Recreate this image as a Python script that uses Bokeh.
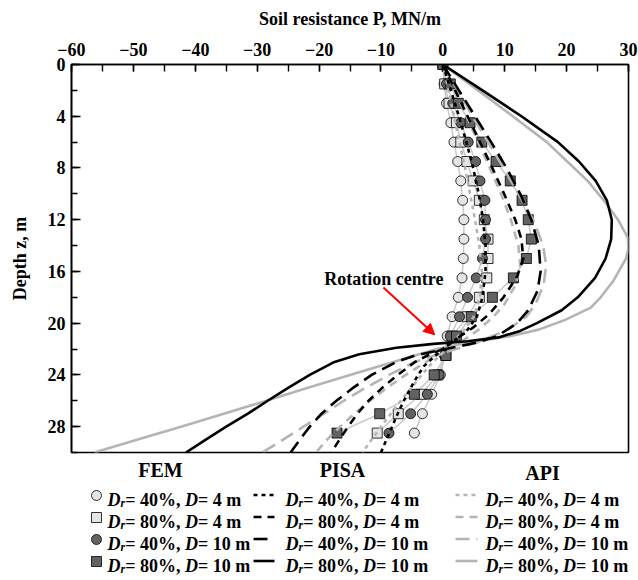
from bokeh.plotting import figure
from bokeh.layouts import column
from bokeh.models import Range1d, SingleIntervalTicker, Arrow, NormalHead, ColumnDataSource, CustomJSTickFormatter
from bokeh.embed import file_html
from bokeh.resources import INLINE
from bokeh.core.properties import value, field

FONT = "Liberation Serif"

# ---------------- data ----------------
fem_depth = [0, 1.5, 3, 4.5, 6, 7.5, 9, 10.5, 12, 13.5, 15, 16.5, 18, 19.5, 21, 22.5, 24, 25.5, 27, 28.5]
fem_dr40_d4 = [0, 0.2, 0.6, 1.3, 1.8, 2.4, 2.9, 3.2, 3.4, 3.4, 3.3, 3.1, 2.5, 1.5, 0.7, 0.3, -0.4, -1.8, -3.3, -4.6]
fem_dr80_d4 = [0, 0.3, 1.0, 2.2, 2.9, 3.9, 4.9, 5.9, 6.7, 7.3, 7.3, 7.1, 5.9, 4.0, 1.5, 0.5, -0.8, -3.5, -7.2, -10.6]
fem_dr40_d10 = [0, 0.6, 1.6, 2.9, 4.1, 5.3, 6.0, 6.8, 6.9, 6.9, 6.4, 5.4, 4.0, 2.7, 1.2, 0.3, -0.6, -2.5, -5.2, -8.7]
fem_dr80_d10 = [0, 1.2, 2.5, 4.4, 6.3, 8.6, 10.9, 12.8, 13.8, 14.3, 13.5, 11.4, 8.0, 4.6, 2.2, 0.5, -1.4, -4.6, -10.2, -17.1]

pisa_dr40_d4_z = [0, 2, 4, 6, 8, 10, 12, 14, 16, 18, 19.5, 20.5, 21.3, 22, 22.5, 23.3, 24, 25, 26, 27, 28, 29, 30]
pisa_dr40_d4_p = [0, 1.3, 2.6, 3.8, 4.9, 5.8, 6.5, 6.9, 6.9, 6.4, 5.5, 4.0, 2.0, 0, -1.2, -3.0, -4.0, -5.2, -6.3, -7.3, -8.2, -9.1, -10.0]
pisa_dr80_d4_z = [0, 2, 4, 6, 8, 10, 12, 13.5, 15, 16.4, 18, 19.3, 20.3, 21.2, 22, 22.5, 23, 24, 25, 26, 27, 28, 29, 30]
pisa_dr80_d4_p = [0, 2.0, 4.0, 6.0, 8.0, 9.9, 11.7, 12.7, 13.0, 12.0, 9.8, 7.5, 5.0, 2.2, 0, -2.5, -4.5, -7.3, -9.8, -12.0, -13.8, -15.3, -16.7, -18.0]
pisa_dr40_d10_z = [0, 2, 4, 6, 8, 10, 12, 14, 16, 17.5, 19, 20, 21, 21.5, 22, 22.5, 23, 24, 25, 26, 27, 28, 29, 30]
pisa_dr40_d10_p = [0, 2.6, 5.2, 7.8, 10.3, 12.5, 14.3, 15.5, 15.8, 15.3, 13.8, 12.0, 8.8, 5.5, 0.5, -4.5, -7.5, -11.5, -14.5, -17.2, -19.6, -21.5, -23.1, -24.6]
pisa_dr80_d10_z = [0, 2, 4, 6, 7.5, 9, 10.5, 12, 13.5, 15, 16.5, 18, 19, 20, 20.6, 21.1, 21.4, 21.6, 21.9, 22.4, 23, 24, 25, 26, 27, 28, 29, 30]
pisa_dr80_d10_p = [0, 6.4, 12.7, 18.6, 22.0, 24.7, 26.5, 27.3, 27.2, 26.3, 24.6, 21.8, 19.2, 15.2, 12.5, 9.0, 4.0, -1.5, -7.5, -13.5, -17.5, -21.5, -25.0, -28.3, -31.5, -35.0, -38.3, -41.5]

api_dr40_d4_z = [0, 2, 4, 6, 8, 10, 12, 14, 16, 18, 19.5, 20.5, 21.5, 22.3, 23, 24, 25, 26, 27, 28, 29, 30]
api_dr40_d4_p = [0, 0.9, 1.8, 2.7, 3.6, 4.4, 5.2, 5.9, 6.3, 6.0, 5.0, 3.5, 1.5, 0, -1.6, -3.4, -5.1, -6.8, -8.4, -10.0, -11.5, -13.0]
api_dr80_d4_z = [0, 2, 4, 6, 8, 10, 12, 14, 15.5, 17, 18.5, 19.5, 20.5, 21.5, 22.3, 23, 24, 25, 26, 27, 28, 29, 30]
api_dr80_d4_p = [0, 1.9, 3.8, 5.7, 7.6, 9.4, 11.0, 12.2, 12.5, 11.8, 10.0, 8.2, 5.8, 2.8, 0, -2.7, -6.0, -9.0, -11.8, -14.3, -16.6, -18.7, -20.5]
api_dr40_d10_z = [0, 2, 4, 6, 8, 10, 12, 14, 15.5, 17, 18.5, 19.5, 20.5, 21.5, 22.3, 23, 24, 25, 26, 27, 28, 29, 30]
api_dr40_d10_p = [0, 2.4, 4.8, 7.3, 9.8, 12.2, 14.6, 16.2, 16.7, 16.3, 15.0, 13.5, 10.5, 5.5, 0, -4.5, -8.7, -12.5, -16.0, -19.2, -22.5, -25.8, -29.2]
api_dr80_d10_z = [0, 2, 4, 6, 7.5, 9, 10.5, 12, 13.4, 14.2, 15, 16.7, 18, 18.8, 19.8, 20.5, 21, 21.3, 21.7, 22, 23, 24, 25, 26, 27, 28, 29, 30]
api_dr80_d10_p = [0, 5.7, 11.3, 16.8, 20.1, 23.4, 26.0, 28.3, 29.9, 30.0, 29.6, 27.6, 25.5, 23.9, 19.5, 15.5, 11.0, 7.0, 2.0, -1.0, -8.0, -15.0, -21.8, -28.5, -35.4, -42.3, -49.3, -56.3]

x_ticks_interval = 10
y_ticks_interval = 4

legend_groups = ["FEM", "PISA", "API"]
legend_rows = [("40%", "4 m"), ("80%", "4 m"), ("40%", "10 m"), ("80%", "10 m")]

# ---------------- styles ----------------
LIGHT = "#e4e4e4"
DARK = "#626262"
FEMLINE = "#c9c9c9"
GRAY = "#b4b4b4"
DASHES = ["4 4", "8 6", "14 7", "solid"]

W = 638
H1 = 454
H2 = 580 - H1

# ---------------- main plot ----------------
p = figure(width=W, height=H1, output_backend="svg", toolbar_location=None,
           x_range=Range1d(-60, 30), y_range=Range1d(30, 0),
           x_axis_location="above", y_axis_location="left",
           min_border_left=71, min_border_right=10, min_border_top=64, min_border_bottom=2)
p.frame_align = False
p.grid.visible = False
p.outline_line_color = "black"
p.outline_line_width = 1.6
p.background_fill_color = "white"
p.border_fill_color = "white"

xa = p.xaxis[0]
xa.ticker = SingleIntervalTicker(interval=x_ticks_interval, num_minor_ticks=2)
xa.formatter = CustomJSTickFormatter(code="return (tick < 0 ? '\u2212' : '') + Math.abs(Math.round(tick));")
xa.axis_label = "Soil resistance P, MN/m"
ya = p.yaxis[0]
ya.ticker = SingleIntervalTicker(interval=y_ticks_interval, num_minor_ticks=2)
ya.axis_label = "Depth z, m"
for ax in (xa, ya):
    ax.axis_line_width = 1.6
    ax.major_tick_out = 0
    ax.minor_tick_out = 0
    ax.major_tick_line_width = 1.4
    ax.minor_tick_line_width = 1.4
    ax.major_label_text_font = FONT
    ax.major_label_text_font_style = "bold"
    ax.major_label_text_font_size = "18px"
    ax.major_label_text_color = "black"
    ax.axis_label_text_font = FONT
    ax.axis_label_text_font_style = "bold"
    ax.axis_label_text_font_size = "18px"
    ax.axis_label_text_color = "black"
xa.major_tick_in = 7
xa.minor_tick_in = 7
xa.major_label_standoff = 9
xa.axis_label_standoff = 11
ya.major_tick_in = 9
ya.minor_tick_in = 6
ya.major_label_standoff = 6
ya.axis_label_standoff = 15

fem_series = [(fem_dr40_d4, "circle", LIGHT), (fem_dr80_d4, "square", LIGHT),
              (fem_dr40_d10, "circle", DARK), (fem_dr80_d10, "square", DARK)]
for vals, _, _ in fem_series:
    p.line(vals, fem_depth, line_color=FEMLINE, line_width=1.5)
for vals, mk, col in fem_series:
    p.scatter(vals, fem_depth, marker=mk, size=10, fill_color=col, line_color="black", line_width=0.8)

api_series = [(api_dr40_d4_p, api_dr40_d4_z), (api_dr80_d4_p, api_dr80_d4_z),
              (api_dr40_d10_p, api_dr40_d10_z), (api_dr80_d10_p, api_dr80_d10_z)]
for (xs, zs), d in zip(api_series, DASHES):
    p.line(xs, zs, line_color=GRAY, line_width=2.6, line_dash=d)

pisa_series = [(pisa_dr40_d4_p, pisa_dr40_d4_z), (pisa_dr80_d4_p, pisa_dr80_d4_z),
               (pisa_dr40_d10_p, pisa_dr40_d10_z), (pisa_dr80_d10_p, pisa_dr80_d10_z)]
for (xs, zs), d in zip(pisa_series, DASHES):
    p.line(xs, zs, line_color="black", line_width=2.6, line_dash=d)

p.text(x=[0.1], y=[16.55], text=["Rotation centre"], text_align="right", text_baseline="middle",
       text_font=value(FONT), text_font_style="bold", text_font_size="18px", text_color="black")
p.add_layout(Arrow(end=NormalHead(size=11, fill_color="red", line_color="red"),
                   x_start=-9.6, y_start=17.24, x_end=-1.3, y_end=20.9,
                   line_color="red", line_width=2))

# ---------------- legend figure ----------------
q = figure(width=W, height=H2, output_backend="svg", toolbar_location=None,
           x_range=Range1d(0, W), y_range=Range1d(H2, 0),
           x_axis_type=None, y_axis_type=None, min_border=0)
q.frame_align = False
q.grid.visible = False
q.outline_line_color = None
q.background_fill_color = "white"
q.border_fill_color = "white"

OX, OY = 0, H1  # page offset of legend canvas

BOLD_W = {' ': 250, '%': 1000, ',': 250, '=': 570, 'm': 833, 'D': 722, 'r': 444}
for c in "0123456789":
    BOLD_W[c] = 500
BI_W = {'D': 722, 'r': 389}

def tw(s, table, size):
    return sum(table.get(ch, 500) for ch in s) * size / 1000.0

hdr_x = [160 - OX, 342 - OX, 542 - OX]
hdr_y = [469 - OY, 469 - OY, 472 - OY]
q.text(x=hdr_x, y=hdr_y, text=legend_groups, text_align="center", text_baseline="middle",
       text_font=value(FONT), text_font_style="bold", text_font_size="20px", text_color="black")

row_y = [493 - OY, 515 - OY, 537 - OY, 559 - OY]
text_x0 = [107 - OX, 285 - OX, 485 - OX]

runs = dict(x=[], y=[], text=[], style=[], size=[])
FS = 18
SUB = 12
for gx in text_x0:
    for (dr, dd), ry in zip(legend_rows, row_y):
        yb = ry + 6
        x = gx
        pieces = [("D", "bold italic", FS, 0, BI_W), ("r", "bold italic", SUB, 3.5, BI_W),
                  ("= " + dr + ", ", "bold", FS, 0, BOLD_W), ("D", "bold italic", FS, 0, BI_W),
                  ("= " + dd, "bold", FS, 0, BOLD_W)]
        for s, st, sz, dy, tab in pieces:
            runs["x"].append(x)
            runs["y"].append(yb + dy)
            runs["text"].append(s)
            runs["style"].append(st)
            runs["size"].append(f"{sz}px")
            x += tw(s, tab, sz)
q.text(x="x", y="y", text="text", source=ColumnDataSource(runs), text_align="left",
       text_baseline="alphabetic", text_font=value(FONT), text_font_style=field("style"),
       text_font_size=field("size"), text_color="black")

# FEM legend markers
for (vals, mk, col), ry in zip(fem_series, row_y):
    q.scatter([96 - OX], [ry + 2], marker=mk, size=10, fill_color=col, line_color="black", line_width=0.8)
# PISA and API legend line samples
for d, ry in zip(DASHES, row_y):
    q.line([253 - OX, 274 - OX], [ry + 1.5, ry + 1.5], line_color="black", line_width=2.6, line_dash=d)
    q.line([455 - OX, 477 - OX], [ry + 1.5, ry + 1.5], line_color=GRAY, line_width=2.6, line_dash=d)

layout = column(p, q, spacing=0)
open("out.html", "w").write(file_html(layout, INLINE))
